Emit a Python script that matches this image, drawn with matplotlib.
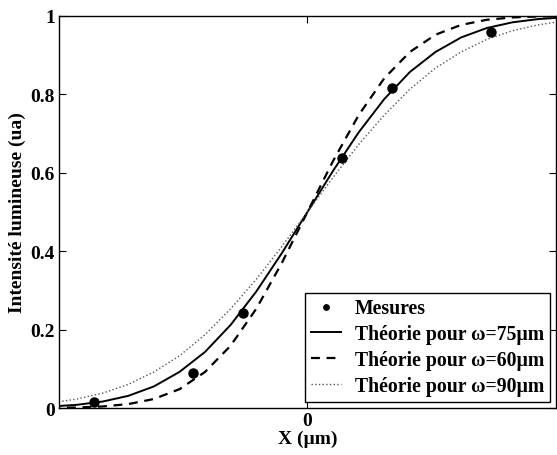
import matplotlib
matplotlib.use("Agg")
import matplotlib.pyplot as plt

# Theory curves (x in µm)
x_th = [-100, -90, -80, -70, -60, -50, -40, -30, -20, -10, 0,
        10, 20, 30, 40, 50, 60, 70, 80, 90, 100]
y75 = [0.004, 0.0082, 0.0165, 0.031, 0.055, 0.092, 0.143, 0.212, 0.297, 0.395, 0.5,
       0.605, 0.703, 0.788, 0.857, 0.908, 0.945, 0.969, 0.9835, 0.9918, 0.996]
y60 = [0.0005, 0.0014, 0.004, 0.010, 0.023, 0.048, 0.092, 0.159, 0.253, 0.370, 0.5,
       0.630, 0.747, 0.841, 0.908, 0.952, 0.977, 0.990, 0.996, 0.9986, 0.9995]
y90 = [0.013, 0.023, 0.038, 0.060, 0.092, 0.133, 0.187, 0.253, 0.328, 0.412, 0.5,
       0.588, 0.672, 0.747, 0.813, 0.867, 0.908, 0.940, 0.962, 0.977, 0.987]

# Measurements
x_mes = [-83.2, -44.7, -25.2, 13.5, 33.0, 71.8]
y_mes = [0.015, 0.089, 0.242, 0.637, 0.816, 0.958]

labels = ["Mesures", "Théorie pour ω=75µm", "Théorie pour ω=60µm", "Théorie pour ω=90µm"]

plt.rcParams['font.family'] = ['Liberation Serif', 'DejaVu Serif']
plt.rcParams['font.weight'] = 'bold'

fig = plt.figure(figsize=(5.57, 4.56), dpi=100)
ax = fig.add_axes([0.106, 0.103, 0.892, 0.860])

ax.plot(x_mes, y_mes, 'o', color='black', markersize=6.5, label=labels[0], zorder=5)
ax.plot(x_th, y75, '-', color='black', lw=1.4, label=labels[1])
ax.plot(x_th, y60, '--', color='black', lw=1.6, dashes=(4, 3), label=labels[2])
ax.plot(x_th, y90, ':', color='#555555', lw=1.0, label=labels[3])

ax.set_xlim(-97, 97)
ax.set_ylim(0, 1)
ax.set_xticks([0])
ax.set_xticklabels(['0'])
ax.set_yticks([0, 0.2, 0.4, 0.6, 0.8, 1.0])
ax.set_yticklabels(['0', '0.2', '0.4', '0.6', '0.8', '1'])
ax.tick_params(direction='in', top=True, right=True, length=5, width=0.8,
               labelsize=14, pad=3)
for lab in ax.get_xticklabels() + ax.get_yticklabels():
    lab.set_fontweight('bold')
for s in ax.spines.values():
    s.set_linewidth(1.0)

ax.set_xlabel('X (µm)', fontsize=14, fontweight='bold', labelpad=0)
ax.set_ylabel('Intensité lumineuse (ua)', fontsize=14, fontweight='bold', labelpad=3)

leg = ax.legend(loc='lower right', frameon=True, fancybox=False,
                edgecolor='black', framealpha=1, borderpad=0.3, labelspacing=0.3,
                handlelength=1.5, handletextpad=0.7, markerscale=0.6,
                borderaxespad=0.3, prop={'weight': 'bold', 'size': 14.2})
leg.get_frame().set_linewidth(1.0)

fig.savefig('out.png', dpi=100)
